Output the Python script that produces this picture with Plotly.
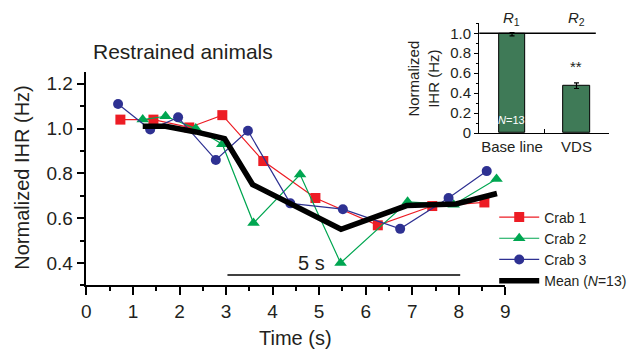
import plotly.graph_objects as go

# ---- heart-rate traces (restrained animals) ----
crab1_t = [0.73, 1.44, 2.21, 2.92, 3.80, 4.92, 6.26, 7.43, 8.55]
crab1_ihr = [1.04, 1.04, 1.005, 1.06, 0.855, 0.69, 0.568, 0.654, 0.67]

crab2_t = [1.21, 1.70, 2.35, 2.92, 3.59, 4.59, 5.46, 6.90, 7.89, 8.81]
crab2_ihr = [1.04, 1.055, 1.0, 0.93, 0.578, 0.795, 0.40, 0.673, 0.66, 0.775]

crab3_t = [0.68, 1.37, 1.97, 2.78, 3.47, 4.38, 5.51, 6.74, 7.78, 8.60]
crab3_ihr = [1.11, 0.996, 1.05, 0.86, 0.99, 0.666, 0.64, 0.552, 0.69, 0.81]

mean_t = [1.21, 1.70, 2.35, 2.97, 3.57, 4.52, 5.47, 6.88, 7.94, 8.82]
mean_ihr = [1.01, 1.01, 0.985, 0.955, 0.75, 0.648, 0.55, 0.656, 0.663, 0.71]

# ---- inset: R1 / R2 summary ----
inset_labels = ["Base line", "VDS"]
inset_values = [0.99, 0.474]
inset_err = [0.017, 0.028]
baseline_level = 1.0

# scale bar
scale_bar_len = 5.0
scale_bar_center = 5.53
scale_bar_level = 0.346

RED = "#ed1c24"
GREEN = "#00a651"
BLUE = "#2e3192"
BAR_GREEN = "#3f7a57"
FONT = "Liberation Sans, Arial, sans-serif"
TXT = "#231f20"

W, H = 639, 364

fig = go.Figure()

fig.add_trace(go.Scatter(
    x=crab1_t, y=crab1_ihr, name="Crab 1", mode="lines+markers",
    line=dict(color=RED, width=1.2),
    marker=dict(symbol="square", size=10, color=RED), cliponaxis=False))
fig.add_trace(go.Scatter(
    x=crab2_t, y=crab2_ihr, name="Crab 2", mode="lines+markers",
    line=dict(color=GREEN, width=1.2),
    marker=dict(symbol="triangle-up", size=11, color=GREEN), cliponaxis=False))
fig.add_trace(go.Scatter(
    x=crab3_t, y=crab3_ihr, name="Crab 3", mode="lines+markers",
    line=dict(color=BLUE, width=1.2),
    marker=dict(symbol="circle", size=10, color=BLUE), cliponaxis=False))
fig.add_trace(go.Scatter(
    x=mean_t, y=mean_ihr, name="Mean (<i>N</i>=13)", mode="lines",
    line=dict(color="black", width=5.5), cliponaxis=False))

# inset bars
fig.add_trace(go.Bar(
    x=[0, 1], y=inset_values, width=0.41, xaxis="x2", yaxis="y2",
    marker=dict(color=BAR_GREEN, line=dict(color="black", width=1)),
    error_y=dict(type="data", array=inset_err, color="black",
                 thickness=1.2, width=2.5),
    showlegend=False))

axis_common = dict(
    showline=True, linecolor="black", linewidth=1.5,
    ticks="outside", tickcolor="black", tickwidth=1.5,
    showgrid=False, zeroline=False,
    tickfont=dict(family=FONT, size=19, color=TXT),
)

fig.update_layout(
    width=W, height=H, autosize=False,
    margin=dict(l=0, r=0, t=0, b=0),
    paper_bgcolor="white", plot_bgcolor="rgba(0,0,0,0)",
    font=dict(family=FONT, color=TXT),
    xaxis=dict(
        domain=[82.7 / W, 508.3 / W], range=[0, 9],
        tickvals=list(range(10)), ticklen=8,
        minor=dict(dtick=0.5, ticks="outside", ticklen=4,
                   tickcolor="black", tickwidth=1.5),
        anchor="y", **axis_common),
    yaxis=dict(
        domain=[1 - 291.7 / H, 1 - 74 / H], range=[0.3, 1.251],
        tickvals=[0.4, 0.6, 0.8, 1.0, 1.2], tickformat=".1f", ticklen=8,
        minor=dict(dtick=0.1, ticks="outside", ticklen=5,
                   tickcolor="black", tickwidth=1.5),
        anchor="x", **axis_common),
    xaxis2=dict(
        domain=[481.7 / W, 613.3 / W], range=[-0.51, 1.5],
        tickvals=[0, 1], ticktext=inset_labels, ticks="", ticklen=0,
        showline=True, linecolor="black", linewidth=1.3,
        showgrid=False, zeroline=False,
        minor=dict(tickvals=[0.5], ticks="inside", ticklen=4,
                   tickcolor="black", tickwidth=1),
        tickfont=dict(family=FONT, size=15, color=TXT),
        anchor="y2"),
    yaxis2=dict(
        domain=[1 - 136 / H, 1 - 23.3 / H], range=[0, 1.105],
        tickvals=[0, 0.2, 0.4, 0.6, 0.8, 1.0],
        ticktext=["0", "0.2", "0.4", "0.6", "0.8", "1.0"],
        ticks="outside", ticklen=4, tickcolor="black", tickwidth=1.2,
        minor=dict(dtick=0.1, ticks="outside", ticklen=2.5,
                   tickcolor="black", tickwidth=1),
        showline=True, linecolor="black", linewidth=1.3,
        showgrid=False, zeroline=False,
        tickfont=dict(family=FONT, size=15, color=TXT),
        anchor="x2"),
    legend=dict(
        x=497 / W, y=1 - 206 / H, xanchor="left", yanchor="top",
        bgcolor="rgba(0,0,0,0)", itemwidth=40, tracegroupgap=0,
        font=dict(family=FONT, size=14, color=TXT)),
    showlegend=True,
    bargap=0,
)

# scale bar and reference level
fig.add_shape(type="line", xref="x", yref="y",
              x0=scale_bar_center - scale_bar_len / 2,
              x1=scale_bar_center + scale_bar_len / 2,
              y0=scale_bar_level, y1=scale_bar_level,
              line=dict(color="black", width=1.3))
fig.add_shape(type="line", xref="x2", yref="y2",
              x0=-0.51, x1=1.3, y0=baseline_level, y1=baseline_level,
              line=dict(color="black", width=1.3))

ann = [
    dict(text="Restrained animals", x=87 / W, y=1 - 53 / H,
         xanchor="left", yanchor="middle", font=dict(size=21)),
    dict(text="Normalized IHR (Hz)", x=17 / W, y=1 - 182 / H, textangle=-90,
         xanchor="center", yanchor="middle", font=dict(size=20)),
    dict(text="Time (s)", x=295 / W, y=1 - 346 / H,
         xanchor="center", yanchor="middle", font=dict(size=20)),
    dict(text="5 s", x=311 / W, y=1 - 269 / H,
         xanchor="center", yanchor="middle", font=dict(size=20)),
    dict(text="Normalized<br>IHR (Hz)", x=425 / W, y=1 - 80 / H, textangle=-90,
         xanchor="center", yanchor="middle", font=dict(size=15)),
    dict(text="<i>R</i><sub>1</sub>", x=515 / W, y=1 - 19 / H,
         xanchor="center", yanchor="middle", font=dict(size=15)),
    dict(text="<i>R</i><sub>2</sub>", x=580.5 / W, y=1 - 19 / H,
         xanchor="center", yanchor="middle", font=dict(size=15)),
    dict(text="**", x=580.5 / W, y=1 - 68 / H,
         xanchor="center", yanchor="middle", font=dict(size=15)),
    dict(text="<i>N</i>=13", x=515 / W, y=1 - 123 / H,
         xanchor="center", yanchor="middle",
         font=dict(size=11, color="white")),
]
for a in ann:
    a.setdefault("xref", "paper")
    a.setdefault("yref", "paper")
    a["showarrow"] = False
    a["font"] = dict(family=FONT, color=a["font"].get("color", TXT),
                     size=a["font"]["size"])
    fig.add_annotation(**a)

fig.write_html("out.html")
